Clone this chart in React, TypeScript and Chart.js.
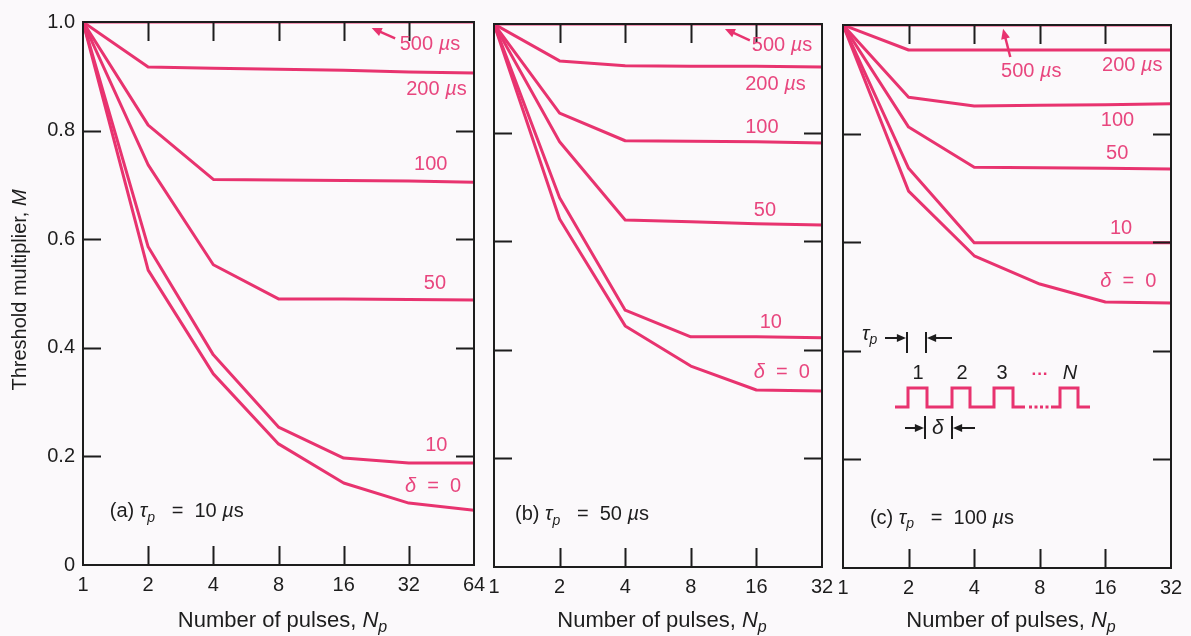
import React, { useEffect, useRef } from "react";
import { Chart, registerables } from "chart.js";
Chart.register(...registerables);

// ---------- data ----------
const PULSES_A = [1, 2, 4, 8, 16, 32, 64];
const PULSES_B = [1, 2, 4, 8, 16, 32];
const PULSES_C = [1, 2, 4, 8, 16, 32];
const Y_TICK_VALUES = [0, 0.2, 0.4, 0.6, 0.8, 1.0];
const Y_TICK_LABELS = ["0", "0.2", "0.4", "0.6", "0.8", "1.0"];
const SERIES_NAMES = ["500 µs", "200 µs", "100", "50", "10", "δ = 0"];

// (a) tau_p = 10 us
const A_500 = [1, 1, 1, 1, 1, 1, 1];
const A_200 = [1, 0.917, 0.915, 0.913, 0.911, 0.908, 0.906];
const A_100 = [1, 0.81, 0.71, 0.709, 0.708, 0.707, 0.705];
const A_50 = [1, 0.737, 0.553, 0.49, 0.49, 0.489, 0.488];
const A_10 = [1, 0.586, 0.387, 0.254, 0.197, 0.188, 0.188];
const A_0 = [1, 0.543, 0.352, 0.223, 0.151, 0.114, 0.101];

// (b) tau_p = 50 us
const B_500 = [1, 1, 1, 1, 1, 1];
const B_200 = [1, 0.932, 0.923, 0.922, 0.922, 0.921];
const B_100 = [1, 0.836, 0.785, 0.784, 0.783, 0.781];
const B_50 = [1, 0.783, 0.639, 0.636, 0.632, 0.63];
const B_10 = [1, 0.68, 0.473, 0.424, 0.424, 0.422];
const B_0 = [1, 0.641, 0.444, 0.37, 0.326, 0.324];

// (c) tau_p = 100 us
const C_500 = [1, 1, 1, 1, 1, 1];
const C_200 = [1, 0.954, 0.954, 0.954, 0.954, 0.954];
const C_100 = [1, 0.867, 0.851, 0.852, 0.853, 0.855];
const C_50 = [1, 0.812, 0.738, 0.737, 0.736, 0.735];
const C_10 = [1, 0.736, 0.599, 0.599, 0.599, 0.599];
const C_0 = [1, 0.694, 0.575, 0.523, 0.49, 0.488];

// ---------- styles ----------
const PINK = "#e8336f";
const PINK_TEXT = "#e8467e";
const INK = "#1d1d1d";
const BG = "#fbf9fb";
const FONT = "'Liberation Sans', Arial, Helvetica, sans-serif";

type Seg = { t: string; i?: boolean; sub?: boolean };

const mu = (pre: string): Seg[] => [{ t: pre }, { t: "µ", i: true }, { t: "s" }];
const NOTE_SEGS: Seg[][] = [
  mu("500 "),
  mu("200 "),
  [{ t: "100" }],
  [{ t: "50" }],
  [{ t: "10" }],
  [{ t: "δ", i: true }, { t: "  =  0" }],
];

function drawRich(ctx: CanvasRenderingContext2D, segs: Seg[], x: number, y: number, size: number, color: string, align: "left" | "center") {
  ctx.save();
  ctx.fillStyle = color;
  ctx.textBaseline = "middle";
  ctx.textAlign = "left";
  const fontOf = (s: Seg) => `${s.i ? "italic " : ""}${s.sub ? Math.round(size * 0.72) : size}px ${FONT}`;
  const ws = segs.map((s) => {
    ctx.font = fontOf(s);
    return ctx.measureText(s.t).width;
  });
  const total = ws.reduce((a, b) => a + b, 0);
  let cx = align === "center" ? x - total / 2 : x;
  segs.forEach((s, k) => {
    ctx.font = fontOf(s);
    ctx.fillText(s.t, cx, y + (s.sub ? size * 0.32 : 0));
    cx += ws[k];
  });
  ctx.restore();
}

function drawArrow(ctx: CanvasRenderingContext2D, x1: number, y1: number, x2: number, y2: number, color: string, head = 9, w = 2) {
  const a = Math.atan2(y2 - y1, x2 - x1);
  ctx.save();
  ctx.strokeStyle = color;
  ctx.fillStyle = color;
  ctx.lineWidth = w;
  ctx.beginPath();
  ctx.moveTo(x1, y1);
  ctx.lineTo(x2 - Math.cos(a) * head * 0.7, y2 - Math.sin(a) * head * 0.7);
  ctx.stroke();
  ctx.beginPath();
  ctx.moveTo(x2, y2);
  ctx.lineTo(x2 - head * Math.cos(a - 0.42), y2 - head * Math.sin(a - 0.42));
  ctx.lineTo(x2 - head * Math.cos(a + 0.42), y2 - head * Math.sin(a + 0.42));
  ctx.closePath();
  ctx.fill();
  ctx.restore();
}

type PanelCfg = {
  pulses: number[];
  series: number[][];
  notePos: [number, number][];
  arrow: [number, number, number, number];
  tag: Seg[];
  tagPos: [number, number];
  showY: boolean;
  diagram: boolean;
  box: { left: number; width: number; yW: number; xH: number; padTop: number; padRight: number };
};

const tagSegs = (letter: string, val: string): Seg[] => [
  { t: `(${letter}) ` },
  { t: "τ", i: true },
  { t: "p", i: true, sub: true },
  { t: `   =  ${val} ` },
  { t: "µ", i: true },
  { t: "s" },
];

const PANELS: PanelCfg[] = [
  {
    pulses: PULSES_A,
    series: [A_500, A_200, A_100, A_50, A_10, A_0],
    notePos: [[4.86, 0.958], [4.96, 0.875], [5.08, 0.737], [5.23, 0.519], [5.25, 0.221], [4.94, 0.144]],
    arrow: [4.79, 0.97, 4.43, 0.989],
    tag: tagSegs("a", "10"),
    tagPos: [0.41, 0.099],
    showY: true,
    diagram: false,
    box: { left: 0, width: 500, yW: 83, xH: 71, padTop: 22, padRight: 26 },
  },
  {
    pulses: PULSES_B,
    series: [B_500, B_200, B_100, B_50, B_10, B_0],
    notePos: [[3.93, 0.961], [3.83, 0.888], [3.83, 0.81], [3.96, 0.657], [4.05, 0.451], [3.96, 0.359]],
    arrow: [3.9, 0.97, 3.52, 0.991],
    tag: tagSegs("b", "50"),
    tagPos: [0.32, 0.096],
    showY: false,
    diagram: false,
    box: { left: 474, width: 370, yW: 20, xH: 69, padTop: 24, padRight: 22 },
  },
  {
    pulses: PULSES_C,
    series: [C_500, C_200, C_100, C_50, C_10, C_0],
    notePos: [[2.41, 0.915], [3.95, 0.926], [3.93, 0.825], [4.01, 0.764], [4.07, 0.626], [3.92, 0.527]],
    arrow: [2.55, 0.941, 2.44, 0.993],
    tag: tagSegs("c", "100"),
    tagPos: [0.41, 0.092],
    showY: false,
    diagram: true,
    box: { left: 823, width: 368, yW: 20, xH: 68, padTop: 25, padRight: 20 },
  },
];

function drawDiagram(ctx: CanvasRenderingContext2D, L: number, T: number) {
  const P = (x: number) => L + x;
  const Q = (y: number) => T + y;
  // tau_p markers
  drawRich(ctx, [{ t: "τ", i: true }, { t: "p", i: true, sub: true }], P(19), Q(309), 20, INK, "left");
  ctx.save();
  ctx.strokeStyle = INK;
  ctx.lineWidth = 2;
  ctx.beginPath();
  ctx.moveTo(P(64), Q(307)); ctx.lineTo(P(64), Q(328));
  ctx.moveTo(P(83), Q(307)); ctx.lineTo(P(83), Q(328));
  ctx.moveTo(P(82), Q(391)); ctx.lineTo(P(82), Q(414));
  ctx.moveTo(P(109), Q(391)); ctx.lineTo(P(109), Q(414));
  ctx.stroke();
  ctx.restore();
  drawArrow(ctx, P(42), Q(313), P(63), Q(313), INK, 10, 2);
  drawArrow(ctx, P(109), Q(313), P(84), Q(313), INK, 10, 2);
  drawArrow(ctx, P(62), Q(403), P(81), Q(403), INK, 10, 2);
  drawArrow(ctx, P(132), Q(403), P(110), Q(403), INK, 10, 2);
  drawRich(ctx, [{ t: "δ", i: true }], P(89), Q(403), 21, INK, "left");
  // pulse numbers
  ctx.save();
  ctx.fillStyle = INK;
  ctx.font = `20px ${FONT}`;
  ctx.textAlign = "center";
  ctx.textBaseline = "middle";
  ctx.fillText("1", P(75), Q(348));
  ctx.fillText("2", P(119), Q(348));
  ctx.fillText("3", P(159), Q(348));
  ctx.font = `italic 20px ${FONT}`;
  ctx.fillText("N", P(227), Q(348));
  ctx.fillStyle = PINK;
  ctx.font = `bold 17px ${FONT}`;
  ctx.fillText("···", P(197), Q(349));
  // waveform
  ctx.strokeStyle = PINK;
  ctx.lineWidth = 3;
  ctx.lineJoin = "miter";
  const base = Q(382);
  const top = Q(363);
  ctx.beginPath();
  ctx.moveTo(P(52), base);
  const edges = [[65, 84], [109, 127], [151, 170]];
  edges.forEach(([r, f]) => {
    ctx.lineTo(P(r), base); ctx.lineTo(P(r), top); ctx.lineTo(P(f), top); ctx.lineTo(P(f), base);
  });
  ctx.lineTo(P(182), base);
  ctx.moveTo(P(208), base);
  ctx.lineTo(P(217), base); ctx.lineTo(P(217), top); ctx.lineTo(P(235), top); ctx.lineTo(P(235), base); ctx.lineTo(P(247), base);
  ctx.stroke();
  ctx.fillStyle = PINK;
  for (let k = 0; k < 4; k++) ctx.fillRect(P(186 + k * 5.5), base - 1.5, 3, 3);
  ctx.restore();
}

function makeConfig(cfg: PanelCfg, idx: number): any {
  const exps = cfg.pulses.map((n) => Math.log2(n));
  const xMax = exps[exps.length - 1];
  const datasets = cfg.series.map((vals, k) => ({
    label: SERIES_NAMES[k],
    data: cfg.pulses.map((n, i) => ({ x: Math.log2(n), y: vals[i] })),
    borderColor: PINK,
    backgroundColor: PINK,
    borderWidth: 3,
    pointRadius: 0,
    tension: 0,
    fill: false,
    borderJoinStyle: "round",
  }));

  const overlay = {
    id: "overlay" + idx,
    afterDraw(chart: any) {
      const ctx: CanvasRenderingContext2D = chart.ctx;
      const xs = chart.scales.x;
      const ys = chart.scales.y;
      const { left, right, top, bottom } = chart.chartArea;
      // frame
      ctx.save();
      ctx.strokeStyle = INK;
      ctx.lineWidth = 2;
      ctx.strokeRect(left, top, right - left, bottom - top);
      // inward ticks
      ctx.beginPath();
      exps.slice(1, -1).forEach((e) => {
        const px = Math.round(xs.getPixelForValue(e)) + 0.5;
        ctx.moveTo(px, bottom); ctx.lineTo(px, bottom - 19);
        ctx.moveTo(px, top); ctx.lineTo(px, top + 19);
      });
      Y_TICK_VALUES.slice(1, -1).forEach((v) => {
        const py = Math.round(ys.getPixelForValue(v)) + 0.5;
        ctx.moveTo(left, py); ctx.lineTo(left + 18, py);
        ctx.moveTo(right, py); ctx.lineTo(right - 18, py);
      });
      ctx.stroke();
      ctx.restore();
      // curve labels
      cfg.notePos.forEach(([nx, ny], k) => {
        drawRich(ctx, NOTE_SEGS[k], xs.getPixelForValue(nx), ys.getPixelForValue(ny), 20, PINK_TEXT, "left");
      });
      const [ax1, ay1, ax2, ay2] = cfg.arrow;
      drawArrow(ctx, xs.getPixelForValue(ax1), ys.getPixelForValue(ay1), xs.getPixelForValue(ax2), ys.getPixelForValue(ay2), PINK, 11, 2.5);
      drawRich(ctx, cfg.tag, xs.getPixelForValue(cfg.tagPos[0]), ys.getPixelForValue(cfg.tagPos[1]), 20, INK, "left");
      // x title
      drawRich(
        ctx,
        [{ t: "Number of pulses, " }, { t: "N", i: true }, { t: "p", i: true, sub: true }],
        (left + right) / 2 + 4,
        621,
        22,
        INK,
        "center"
      );
      if (cfg.showY) {
        ctx.save();
        ctx.translate(20, 290);
        ctx.rotate(-Math.PI / 2);
        drawRich(ctx, [{ t: "Threshold multiplier, " }, { t: "M", i: true }], 0, 0, 20, INK, "center");
        ctx.restore();
      }
      if (cfg.diagram) drawDiagram(ctx, left, top);
    },
  };

  return {
    type: "line",
    data: { datasets },
    options: {
      animation: false,
      responsive: false,
      devicePixelRatio: 1,
      layout: { padding: { top: cfg.box.padTop, right: cfg.box.padRight, left: 0, bottom: 0 } },
      plugins: { legend: { display: false }, tooltip: { enabled: false } },
      scales: {
        x: {
          type: "linear",
          min: 0,
          max: xMax,
          afterBuildTicks: (s: any) => {
            s.ticks = exps.map((v) => ({ value: v }));
          },
          afterFit: (s: any) => {
            s.height = cfg.box.xH;
          },
          grid: { display: false, drawTicks: false },
          border: { display: false },
          ticks: {
            callback: (_v: any, i: number) => String(cfg.pulses[i]),
            color: INK,
            font: { family: FONT, size: 20 },
            padding: 8,
            maxRotation: 0,
            autoSkip: false,
          },
        },
        y: {
          type: "linear",
          min: 0,
          max: 1,
          afterBuildTicks: (s: any) => {
            s.ticks = Y_TICK_VALUES.map((v) => ({ value: v }));
          },
          afterFit: (s: any) => {
            s.width = cfg.box.yW;
          },
          grid: { display: false, drawTicks: false },
          border: { display: false },
          ticks: {
            display: cfg.showY,
            callback: (_v: any, i: number) => Y_TICK_LABELS[i],
            color: INK,
            font: { family: FONT, size: 20 },
            padding: 8,
          },
        },
      },
    },
    plugins: [overlay],
  };
}

function Panel({ cfg, idx }: { cfg: PanelCfg; idx: number }) {
  const ref = useRef<HTMLCanvasElement | null>(null);
  useEffect(() => {
    if (!ref.current) return;
    const chart = new Chart(ref.current, makeConfig(cfg, idx));
    return () => chart.destroy();
  }, [cfg, idx]);
  return (
    <canvas
      ref={ref}
      width={cfg.box.width}
      height={636}
      style={{ position: "absolute", left: cfg.box.left, top: 0, width: cfg.box.width, height: 636 }}
    />
  );
}

export default function App() {
  return (
    <div style={{ position: "absolute", left: 0, top: 0, width: 1191, height: 636, background: BG, overflow: "hidden" }}>
      {PANELS.map((p, i) => (
        <Panel key={i} cfg={p} idx={i} />
      ))}
    </div>
  );
}
